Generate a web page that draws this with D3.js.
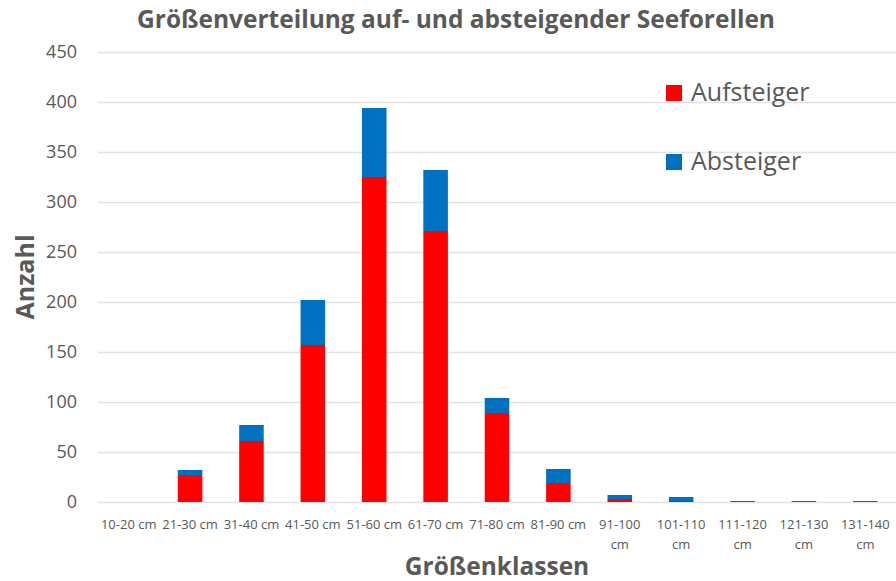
<!DOCTYPE html>
<html>
<head>
<meta charset="utf-8">
<script src="https://cdn.jsdelivr.net/npm/d3@7"></script>
<style>
  body { margin: 0; background: #fff; }
  text { font-family: "Open Sans", "Noto Sans", sans-serif; fill: #595959; }
</style>
</head>
<body>
<div id="chart"></div>
<script>
// data
var categories = ["10-20 cm", "21-30 cm", "31-40 cm", "41-50 cm", "51-60 cm", "61-70 cm",
    "71-80 cm", "81-90 cm", "91-100 cm", "101-110 cm", "111-120 cm", "121-130 cm", "131-140 cm"];
var aufsteiger = [0, 27, 61, 157, 325, 271, 89, 19, 3, 1, 0, 0, 0];
var absteiger = [0, 5, 16, 45, 69, 61, 15, 14, 4, 4, 1, 1, 1];
var yTicks = [0, 50, 100, 150, 200, 250, 300, 350, 400, 450];
var seriesNames = ["Aufsteiger", "Absteiger"];
var colors = ["#ff0000", "#0070c0"];

var W = 896, H = 581;
var margin = {top: 52, right: 0, bottom: 79, left: 98},
    width = W - margin.left - margin.right,
    height = H - margin.top - margin.bottom;

var svg = d3.select("#chart")
    .append("svg")
    .attr("width", W)
    .attr("height", H);

var g = svg.append("g")
    .attr("transform", "translate(" + margin.left + "," + margin.top + ")");

var x = d3.scaleBand()
    .domain(categories)
    .range([0, width])
    .paddingInner(0.6)
    .paddingOuter(0.3);

var y = d3.scaleLinear()
    .domain([0, 450])
    .range([height, 0]);

// gridlines
g.selectAll(".grid")
    .data(yTicks)
    .enter()
    .append("line")
    .attr("x1", 0)
    .attr("x2", width)
    .attr("y1", d => Math.round(y(d)) + 0.5)
    .attr("y2", d => Math.round(y(d)) + 0.5)
    .attr("stroke", "#e3e3e3")
    .attr("stroke-width", 1.5);

// y tick labels
g.selectAll(".ytick")
    .data(yTicks)
    .enter()
    .append("text")
    .attr("x", -21)
    .attr("y", d => y(d))
    .attr("dy", "0.36em")
    .attr("text-anchor", "end")
    .style("font-size", "18px")
    .text(d => d);

// stacked bars
var rows = categories.map(function (c, i) {
    return {cat: c, Aufsteiger: aufsteiger[i], Absteiger: absteiger[i]};
});
var stack = d3.stack().keys(seriesNames)(rows);

g.selectAll(".layer")
    .data(stack)
    .enter()
    .append("g")
    .attr("fill", (d, i) => colors[i])
    .selectAll("rect")
    .data(d => d)
    .enter()
    .append("rect")
    .attr("x", d => x(d.data.cat))
    .attr("width", x.bandwidth())
    .attr("y", d => y(d[1]))
    .attr("height", d => y(d[0]) - y(d[1]));

// x tick labels (wrap long ones)
var xl = g.selectAll(".xtick")
    .data(categories)
    .enter()
    .append("text")
    .attr("text-anchor", "middle")
    .attr("transform", d => "translate(" + (x(d) + x.bandwidth() / 2) + "," + (height + 27) + ")")
    .style("font-size", "13px");
xl.each(function (d) {
    var t = d3.select(this);
    var num = d.replace(" cm", "");
    if (num.length > 5) {
        t.append("tspan").attr("x", 0).attr("y", 0).text(num);
        t.append("tspan").attr("x", 0).attr("y", 20).text("cm");
    } else {
        t.append("tspan").attr("x", 0).attr("y", 0).text(d);
    }
});

// title
svg.append("text")
    .attr("x", 456)
    .attr("y", 28)
    .attr("text-anchor", "middle")
    .style("font-size", "24.5px")
    .style("font-weight", "bold")
    .text("Größenverteilung auf- und absteigender Seeforellen");

// axis titles
svg.append("text")
    .attr("x", 497)
    .attr("y", 575)
    .attr("text-anchor", "middle")
    .style("font-size", "24.5px")
    .style("font-weight", "bold")
    .text("Größenklassen");

svg.append("text")
    .attr("transform", "translate(34,277) rotate(-90)")
    .attr("text-anchor", "middle")
    .style("font-size", "25px")
    .style("font-weight", "bold")
    .text("Anzahl");

// legend
var legend = svg.selectAll(".legend")
    .data(seriesNames)
    .enter()
    .append("g")
    .attr("transform", (d, i) => "translate(666," + (85 + i * 69) + ")");
legend.append("rect")
    .attr("width", 16)
    .attr("height", 16)
    .attr("fill", (d, i) => colors[i]);
legend.append("text")
    .attr("x", 25)
    .attr("y", 16)
    .style("font-size", "25px")
    .text(d => d);
</script>
</body>
</html>
